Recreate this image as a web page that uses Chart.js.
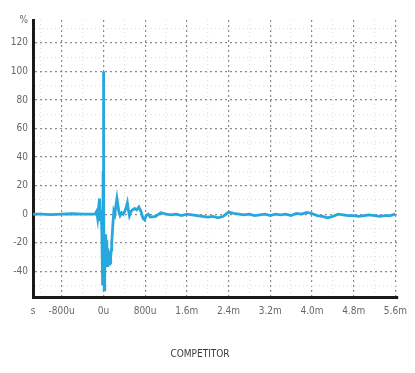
<!DOCTYPE html>
<html>
<head>
<meta charset="utf-8">
<script src="https://cdn.jsdelivr.net/npm/chart.js@4.4.1/dist/chart.umd.min.js"></script>
<style>
  html, body { margin: 0; padding: 0; background: #fff; }
  #wrap { width: 415px; height: 373px; }
</style>
</head>
<body>
<div id="wrap"><canvas id="chart"></canvas></div>
<script>
// time in microseconds, amplitude in %
const times = [-1350, -1200, -1000, -800, -600, -400, -250, -160, -130, -110, -90, -75, -60, -45, -30, -15, -5, 0, 8, 15,
  22, 30, 38, 45, 52, 60, 68, 76, 85, 92, 100, 110, 120, 130, 140, 150, 160, 180, 200, 220,
  240, 260, 280, 300, 320, 350, 380, 410, 440, 460, 480, 500, 530, 560, 600, 640, 680, 720, 760, 790,
  820, 860, 900, 1000, 1100, 1200, 1300, 1400, 1500, 1600, 1700, 1800, 1900, 2000, 2100, 2200, 2300, 2400, 2500, 2600,
  2700, 2800, 2900, 3000, 3100, 3200, 3300, 3400, 3500, 3600, 3700, 3800, 3900, 4000, 4100, 4200, 4300, 4400, 4500, 4600,
  4700, 4800, 4900, 5000, 5100, 5200, 5300, 5400, 5500, 5600];
const values = [0, 0, -0.3, 0, 0.3, 0, 0, 0, 2, -3, 5, 11, -5, 3, -12, -50, 30, 100, 20, -53,
  -18, -40, -14, -36, -20, -32, -18, -36, -24, -34, -26, -35, -27, -34, -30, -25, -20, -8, 2, 0,
  6, 11, 6, 1, -1, 1, 0, 2, 5, 8, 3, -1, 2, 3, 4, 3, 5, 2, -3, -4,
  -1, 0, -2, -1.5, 1, 0, -0.5, 0, -1, 0, -0.5, -1, -1.5, -2, -1.5, -2.5, -1.5, 1.5, 0.5, 0,
  -0.5, 0, -1, -0.5, 0, -1, 0, -0.5, 0, -1, 0.5, 0, 1.3, 0.5, -1, -1.5, -2.5, -1.5, 0, -0.5,
  -1, -1, -1.5, -1, -0.5, -1, -1.5, -1, -1, 0];

const xTickValues = [-1350, -800, 0, 800, 1600, 2400, 3200, 4000, 4800, 5600];
const xTickLabels = ['s', '-800u', '0u', '800u', '1.6m', '2.4m', '3.2m', '4.0m', '4.8m', '5.6m'];
const xMinorValues = [-1200, -400, 400, 1200, 2000, 2800, 3600, 4400, 5200];
const yTickValues = [-40, -20, 0, 20, 40, 60, 80, 100, 120, 136];
const yTickLabels = ['-40', '-20', '0', '20', '40', '60', '80', '100', '120', '%'];
const yMinorValues = [-50, -30, -10, 10, 30, 50, 70, 90, 110, 130];

const font = "'Liberation Sans Narrow', 'DejaVu Sans Condensed', sans-serif";

function buildTicks(major, minor){
  return major.concat(minor).sort((a, b) => a - b).map(v => ({value: v}));
}

function gridColor(major, edge){
  return ctx => {
    const v = ctx.tick ? ctx.tick.value : null;
    if ( v === edge ) return 'rgba(0,0,0,0)';
    return major.includes(v) ? '#8c8c8c' : '#e2e2e2';
  };
}

function gridDash(major){
  return ctx => {
    const v = ctx.tick ? ctx.tick.value : null;
    return major.includes(v) ? [2, 3] : [1, 3];
  };
}

new Chart(document.getElementById('chart'), {
  type: 'line',
  data: {
    datasets: [{
      data: times.map((t, i) => ({x: t, y: values[i]})),
      borderColor: '#26a8df',
      borderWidth: 2.8,
      pointRadius: 0,
      tension: 0,
      fill: false
    }]
  },
  options: {
    responsive: true,
    maintainAspectRatio: false,
    animation: false,
    layout: { padding: { top: 20, right: 15, left: 0, bottom: 0 } },
    plugins: {
      legend: { display: false },
      tooltip: { enabled: false },
      title: {
        display: true,
        position: 'bottom',
        text: 'COMPETITOR',
        color: '#3a3a3a',
        font: { family: font, size: 10, weight: 'normal' },
        padding: { top: 11, bottom: 13 }
      }
    },
    scales: {
      x: {
        type: 'linear',
        min: -1350,
        max: 5640,
        afterBuildTicks: scale => { scale.ticks = buildTicks(xTickValues, xMinorValues); },
        afterFit: scale => { scale.height = 40; },
        ticks: {
          autoSkip: false,
          maxRotation: 0,
          padding: 8,
          color: '#666',
          font: { family: font, size: 10 },
          callback: v => { const i = xTickValues.indexOf(v); return i >= 0 ? xTickLabels[i] : ''; }
        },
        grid: { drawTicks: false, lineWidth: 1.2, color: gridColor(xTickValues, -1350) },
        border: { display: true, color: '#1a1a1a', width: 3, dash: gridDash(xTickValues) }
      },
      y: {
        min: -58,
        max: 136,
        afterBuildTicks: scale => { scale.ticks = buildTicks(yTickValues, yMinorValues); },
        afterFit: scale => { scale.width = 33; },
        ticks: {
          autoSkip: false,
          padding: 5,
          color: '#666',
          font: { family: font, size: 10 },
          callback: v => { const i = yTickValues.indexOf(v); return i >= 0 ? yTickLabels[i] : ''; }
        },
        grid: { drawTicks: false, lineWidth: 1.2, color: gridColor(yTickValues, 136) },
        border: { display: true, color: '#1a1a1a', width: 3, dash: gridDash(yTickValues) }
      }
    }
  }
});
</script>
</body>
</html>
